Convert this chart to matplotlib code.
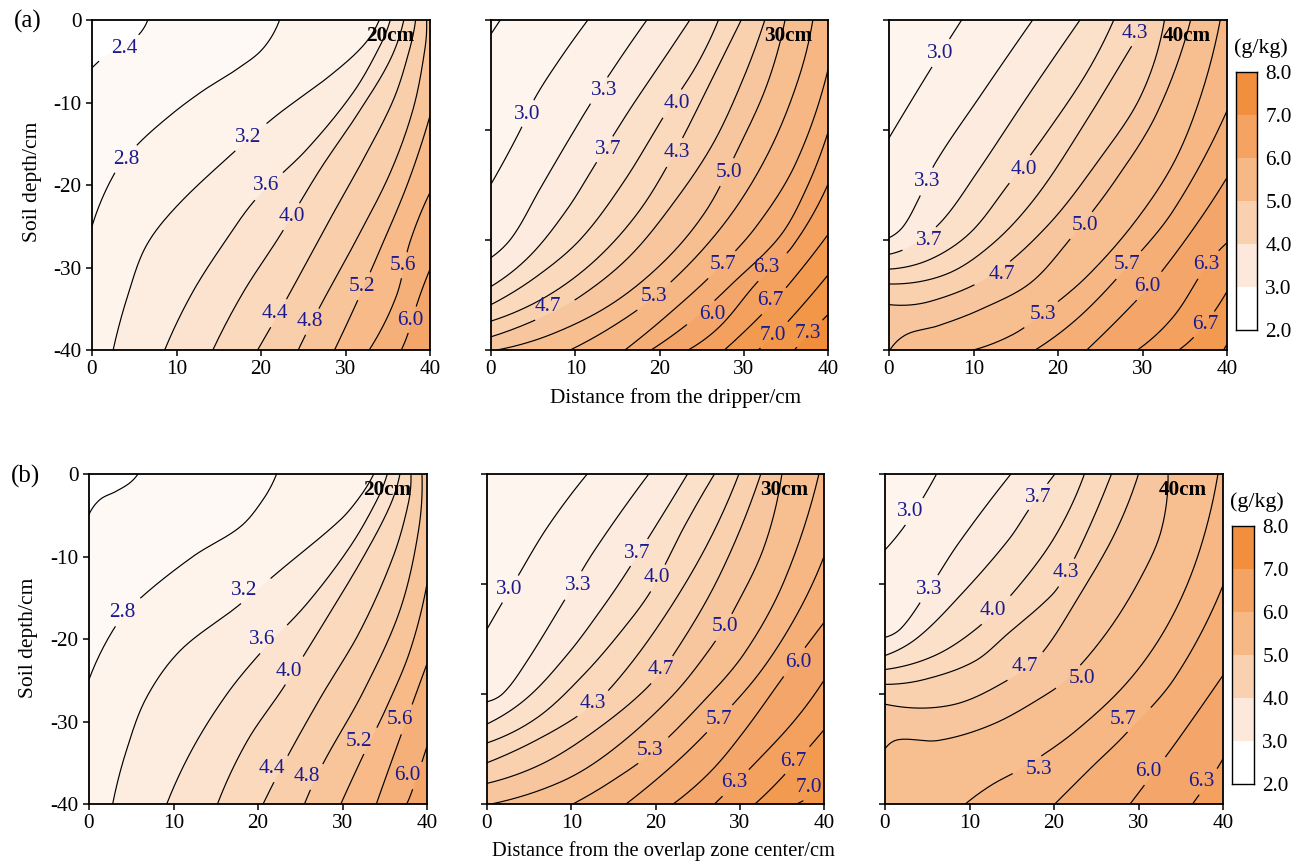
import numpy as np
import matplotlib
matplotlib.use('Agg')
import matplotlib.pyplot as plt
from matplotlib.colors import LinearSegmentedColormap

plt.rcParams['font.family'] = ['Liberation Serif', 'DejaVu Serif']
plt.rcParams['axes.unicode_minus'] = False

# contour lines: level -> (distance, depth) points
a20_lines = {
    2.4: [(0, -5.8), (2.2, -3.9), (5.2, -2.1), (6.6, 0)],
    2.8: [(0, -25), (2.5, -18.9), (5.2, -15.3), (9.2, -11.6), (13.1, -8.6), (17.1, -6), (20.2, -3.5), (22.2, 0)],
    3.2: [(2.5, -40), (4.2, -33.5), (6.4, -27.4), (10, -22.6), (16.7, -16.1), (21.8, -11.6), (28.1, -6.8), (32.1, -3.1), (34, 0)],
    3.6: [(8.6, -40), (11.9, -33), (15.9, -26.6), (19.4, -21.7), (25.4, -15.7), (30.9, -8.8), (34.1, -3.1), (35.3, 0)],
    4.0: [(14.3, -40), (17.9, -33), (22.2, -26.2), (27, -18.1), (31.3, -11.6), (35.2, -5), (36.9, 0)],
    4.4: [(19.6, -40), (23.2, -33.5), (27.7, -25), (32.1, -16.9), (35.7, -9.6), (37.6, -3.5), (38.3, 0)],
    4.8: [(24.4, -40), (27, -34.7), (31.3, -26.6), (35.3, -18.5), (38, -10.8), (39.4, -3.5), (39.6, 0)],
    5.2: [(28.7, -40), (31.3, -34.3), (34.1, -27.8), (37.4, -19.7), (40, -11.6)],
    5.6: [(32.8, -40), (36, -33.5), (37.6, -27), (40, -20.9)],
    6.0: [(36.6, -40), (37.4, -38), (38.6, -34), (40, -30.2)],
}
a20_labels = {2.4: (3.8, -3.4), 2.8: (4, -16.9), 3.2: (18.5, -14.2), 3.6: (20.6, -20.1), 4.0: (23.6, -23.8),
              4.4: (21.6, -35.6), 4.8: (25.8, -36.6), 5.2: (32, -32.3), 5.6: (36.8, -29.7), 6.0: (37.7, -36.4)}

a30_lines = {
    2.7: [(0, -1.7), (1.1, 0)],
    3.0: [(0, -19.9), (3.4, -13.5), (5.2, -9.5), (8, -5), (11.5, 0)],
    3.3: [(0, -28.8), (2.6, -26.2), (5.8, -20.5), (9, -14.9), (11.9, -10), (15.3, -4.7), (18.5, 0)],
    3.7: [(0, -32.3), (4.6, -28.6), (9, -23), (12.5, -17.3), (16.5, -10.8), (20, -5.5), (23.6, 0)],
    4.0: [(0, -34.5), (5.4, -31.1), (10.6, -26.6), (15.7, -19.7), (20.8, -11.2), (24.4, -5.5), (27, 0)],
    4.3: [(0, -36.5), (6.6, -33.5), (12.5, -29), (17.7, -23), (22, -15.7), (26.4, -6.8), (29.7, 0)],
    4.7: [(0, -38.4), (5.4, -36.3), (10.6, -33.5), (16.5, -28.6), (22, -21.7), (26.4, -14.9), (29.9, -7.2), (32.5, 0)],
    5.0: [(0.7, -40), (7.4, -38), (14.5, -34.3), (20.8, -29), (25.6, -23), (29.1, -16.1), (32.7, -8), (34.9, 0)],
    5.3: [(9.4, -40), (14.5, -37.1), (19.2, -33.7), (24.8, -28.2), (29.5, -22.1), (33.5, -14.9), (36.6, -6.8), (38.2, 0)],
    5.7: [(15.9, -40), (20.8, -35.9), (26.4, -30.7), (31.5, -25), (36.2, -17.3), (40, -6)],
    6.0: [(19, -40), (24, -36.3), (28.7, -31.9), (34.3, -26.2), (37.4, -20.5), (40, -13.6)],
    6.3: [(23.4, -40), (27.2, -37.1), (31.5, -31.9), (35.8, -27.4), (40, -19.9)],
    6.7: [(27.7, -40), (32.7, -35.1), (36.2, -31), (40, -26)],
    7.0: [(31.7, -40), (34.3, -37.6), (40, -30.9)],
    7.3: [(36, -40), (38.2, -37.6), (40, -35.7)],
}
a30_labels = {3.0: (4.3, -11.4), 3.3: (13.4, -8.5), 3.7: (13.9, -15.7), 4.0: (22.1, -10.1), 4.3: (22.1, -16),
              4.7: (6.8, -34.7), 5.0: (28.3, -18.5), 5.3: (19.4, -33.5), 5.7: (27.5, -29.6), 6.0: (26.3, -35.7),
              6.3: (32.7, -30), 6.7: (33.2, -34), 7.0: (33.4, -38.2), 7.3: (37.6, -38)}

a40_lines = {
    3.0: [(0, -14.3), (4.9, -6), (8.6, 0)],
    3.3: [(0, -26.4), (1.7, -25), (3.5, -21.7), (5.5, -17.3), (10.8, -9.2), (17, 0)],
    3.7: [(0, -28.4), (2.9, -27.2), (6.4, -24.2), (10.4, -18.5), (16.7, -8.8), (22.6, 0)],
    4.0: [(0, -30.2), (4.9, -29), (9.6, -25.8), (14, -20.1), (18.7, -13.6), (23.4, -6.4), (26.6, 0)],
    4.3: [(0, -32), (6.8, -30.8), (12.4, -27), (17.5, -21.3), (23, -12.8), (28.4, -3.7), (30.6, 0)],
    4.7: [(0, -34.5), (4.9, -34.1), (12, -31), (18.7, -25), (24.6, -17.3), (29.8, -9.2), (32.6, 0)],
    5.0: [(0.1, -40), (2.1, -38.1), (5.7, -37.1), (10.8, -35.1), (16.7, -31.9), (21.4, -26.6), (26.6, -19.7), (31.7, -11.3), (35.7, 0)],
    5.3: [(10, -40), (14.7, -38.1), (18.3, -35.5), (23.4, -31.1), (29, -24.6), (33.7, -17.3), (36.9, -9.2), (39.2, 0)],
    5.7: [(17.3, -40), (22.6, -35.9), (28.2, -29.9), (33.7, -23), (40, -11)],
    6.0: [(23.4, -40), (29, -34.3), (32.1, -30.7), (36.5, -24.6), (40, -19.1)],
    6.3: [(29.4, -40), (33.7, -35.9), (37.7, -29.6), (40, -27)],
    6.7: [(34.3, -40), (36.9, -37.5), (40, -32.9)],
    7.0: [(39.6, -40), (40, -39.3)],
}
a40_labels = {3.0: (6, -4), 3.3: (4.5, -19.6), 3.7: (4.7, -26.7), 4.0: (16, -18.1), 4.3: (29.1, -1.6), 4.7: (13.4, -30.9),
              5.0: (23.2, -24.9), 5.3: (18.2, -35.7), 5.7: (28.2, -29.6), 6.0: (30.6, -32.3), 6.3: (37.5, -29.6), 6.7: (37.4, -36.9)}

b20_lines = {
    2.4: [(0, -4.9), (1.3, -3.1), (3.2, -2.1), (4.8, -1.1), (5.8, 0)],
    2.8: [(0, -24.9), (2.8, -19), (5.6, -15.5), (12.3, -10), (17.9, -6.4), (20.6, -3.1), (22.2, 0)],
    3.2: [(2.8, -40), (4.4, -33.6), (6.8, -27.1), (10.8, -21.4), (17.5, -16.1), (22.6, -11.7), (29.7, -5.6), (32.1, -2.7), (33.7, 0)],
    3.6: [(9.2, -40), (12.3, -33.2), (16.3, -26.7), (20.2, -21.8), (25.8, -15.7), (30.9, -8.8), (34.1, -3.1), (35.3, 0)],
    4.0: [(15.2, -40), (18.7, -32.4), (23, -25.9), (27.7, -18.2), (32.5, -10), (35.6, -3.9), (36.8, 0)],
    4.4: [(20.6, -40), (23.4, -34.4), (27.4, -27.1), (32.1, -19), (36, -10), (37.8, -3.5), (38.1, 0)],
    4.8: [(25.5, -40), (27.7, -35.1), (32.5, -26.3), (36.8, -16.5), (39, -6.8), (39.4, 0)],
    5.2: [(29.8, -40), (32.5, -34), (35.2, -28.3), (38, -21.4), (40, -13.3)],
    5.6: [(34, -40), (36.8, -32), (40, -23)],
    6.0: [(37.6, -40), (38.2, -38.5), (40, -33)],
}
b20_labels = {2.8: (3.9, -16.8), 3.2: (18.4, -14.1), 3.6: (20.5, -20.1), 4.0: (23.6, -23.9), 4.4: (21.6, -35.7),
              4.8: (25.8, -36.7), 5.2: (32, -32.4), 5.6: (36.8, -29.8), 6.0: (37.7, -36.5)}

b30_lines = {
    3.0: [(0, -18.8), (3.6, -12.5), (7.2, -6.4), (11.9, 0)],
    3.3: [(0, -27.6), (2, -26.5), (4.8, -22.6), (9.2, -15.3), (12.8, -9.2), (19.2, 0)],
    3.7: [(0, -30.3), (4.8, -27.1), (9.6, -21.8), (13.5, -16.5), (16.7, -11.7), (23.8, 0)],
    4.0: [(0, -32.6), (6, -29.5), (11.5, -24.3), (16.3, -18.6), (19.5, -14.1), (23.4, -6.4), (27, 0)],
    4.3: [(0, -35), (5.6, -32.4), (11.1, -29.1), (14.7, -25.9), (20.2, -18.6), (25.8, -9.2), (29.9, 0)],
    4.7: [(0, -37.5), (6.4, -35.2), (12.3, -31.5), (18.6, -26.3), (22.2, -21.8), (27.7, -12.1), (32.5, 0)],
    5.0: [(0.5, -40), (8.8, -37.3), (14.7, -33.6), (21.8, -27.1), (26.6, -21), (29.3, -16.5), (32.9, -8.8), (35, 0)],
    5.3: [(10.2, -40), (14.7, -37.3), (19.4, -33.9), (25, -28.3), (30.5, -21.8), (35.3, -12.9), (39.4, 0)],
    5.7: [(16.5, -40), (22.6, -34.8), (27.4, -29.9), (32.5, -23.9), (36.8, -17), (40, -10)],
    6.0: [(22.1, -40), (26.6, -36), (30.5, -31.2), (35.6, -24), (40, -18)],
    6.3: [(27, -40), (31.3, -35.6), (36.4, -30), (40, -25)],
    6.7: [(31.8, -40), (34.9, -36.9), (40, -31)],
    7.0: [(36.7, -40), (38.4, -38.9), (40, -36.5)],
}
b30_labels = {3.0: (2.6, -14), 3.3: (10.8, -13.5), 3.7: (17.8, -9.6), 4.0: (20.2, -12.6), 4.3: (12.6, -27.8), 4.7: (20.6, -23.7),
              5.0: (28.2, -18.5), 5.3: (19.4, -33.5), 5.7: (27.5, -29.7), 6.0: (36.9, -22.8), 6.3: (29.4, -37.4), 6.7: (36.4, -34.8), 7.0: (38.2, -38)}

b40_lines = {
    3.0: [(0, -9.2), (2.8, -5.6), (6.1, 0)],
    3.3: [(0, -19.8), (2, -18.6), (5.1, -14.1), (8.7, -8.4), (14.9, 0)],
    3.7: [(0, -22), (3.9, -19.8), (9.1, -14.5), (14.6, -8), (17.3, -3.9), (20.1, 0)],
    4.0: [(0, -23.7), (5.9, -22), (11, -18.6), (15.4, -14.1), (20.1, -7.6), (23.6, 0)],
    4.3: [(0, -25.5), (4.7, -24.9), (10.6, -22.7), (14.6, -19.3), (18.7, -15.7), (20.5, -13.7), (23.3, -8.4), (26.8, 0)],
    4.7: [(0, -27.9), (7.9, -28), (15, -24.7), (18.5, -21.8), (22.9, -14.9), (27.2, -7.2), (30, 0)],
    5.0: [(0, -33.3), (1.6, -32.2), (6.3, -32.3), (12.6, -30.4), (18.5, -27.1), (21.7, -24.7), (26.4, -19), (30.3, -12.5), (32.7, -6.8), (33.5, 0)],
    5.3: [(9.5, -40), (12.6, -37.7), (16.5, -35.5), (22.5, -31.2), (28.8, -25.1), (33.5, -18.2), (37, -10), (39.4, 0)],
    5.7: [(20.1, -40), (24.4, -35.6), (28.4, -31.6), (34.3, -24.7), (40, -13.5)],
    6.0: [(29, -40), (33.4, -34), (36.2, -30), (40, -24.4)],
    6.3: [(36.4, -40), (39.3, -35.7), (40, -34.5)],
}
b40_labels = {3.0: (3, -4.6), 3.3: (5.2, -14), 3.7: (18.1, -2.8), 4.0: (12.8, -16.5), 4.3: (21.4, -11.9), 4.7: (16.5, -23.3),
              5.0: (23.3, -24.8), 5.3: (18.2, -35.8), 5.7: (28.2, -29.7), 6.0: (31.2, -36.1), 6.3: (37.4, -37.3)}

x_ticks = [0, 10, 20, 30, 40]
y_ticks = [0, -10, -20, -30, -40]
y_ticks_mid = [0, -13.33, -26.67, -40]
cbar_levels = [2, 3, 4, 5, 6, 7, 8]
cbar_colors = ['#FFFFFF', '#FCE9DB', '#FAD1B0', '#F6B884', '#F4A362', '#F28F3E']

W, H = 1295, 863
LABEL_COLOR = '#1B1B8F'
FS = 15.3

# value -> fill colour of the band above that contour
band_cmap = LinearSegmentedColormap.from_list('band', [
    (0.0, '#FFFFFF'), (0.4 / 5.3, '#FEF7F1'), (1.0 / 5.3, '#FDF0E6'), (2.0 / 5.3, '#FAD6B8'),
    (3.0 / 5.3, '#F7BC8C'), (4.0 / 5.3, '#F4A466'), (5.0 / 5.3, '#F29444'), (1.0, '#F18C38')])


def band_color(v):
    return band_cmap((v - 2.1) / 5.3)


def smooth(points, n=24):
    # Hermite curve through the read points, parametrised on chord length
    p = np.array(points, dtype=float)
    if len(p) < 3:
        return p
    t = np.r_[0, np.cumsum(np.hypot(*np.diff(p, axis=0).T))]
    m = np.zeros_like(p)
    m[1:-1] = (p[2:] - p[:-2]) / (t[2:] - t[:-2])[:, None]
    m[0] = 2 * (p[1] - p[0]) / (t[1] - t[0]) - m[1]
    m[-1] = 2 * (p[-1] - p[-2]) / (t[-1] - t[-2]) - m[-2]
    out = []
    for i in range(len(p) - 1):
        h = t[i + 1] - t[i]
        s = np.linspace(0, 1, n, endpoint=False)[:, None]
        out.append((2 * s**3 - 3 * s**2 + 1) * p[i] + (s**3 - 2 * s**2 + s) * h * m[i]
                   + (-2 * s**3 + 3 * s**2) * p[i + 1] + (s**3 - s**2) * h * m[i + 1])
    out.append(p[-1:])
    return np.vstack(out)


def fill_polygon(curve):
    xs, ys = curve[0]
    xe, ye = curve[-1]
    tail = [(xe, 1), (41, 1)] if ye >= -0.1 else [(41, ye)]
    tail.append((41, -41))
    tail += [(xs, -41)] if ys <= -39.5 else [(-1, -41), (-1, ys)]
    return np.vstack([curve, tail])


def make_axes(left, right, top, bottom):
    return fig.add_axes([left / W, 1 - bottom / H, (right - left) / W, (bottom - top) / H])


def draw_panel(box, lines, labels, tag, show_y):
    ax = make_axes(*box)
    levels = sorted(lines)
    ax.set_facecolor(band_color(levels[0] - 0.3))
    curves = {v: smooth(lines[v]) for v in levels}
    for v in levels:
        ax.fill(*fill_polygon(curves[v]).T, color=band_color(v), lw=0, zorder=1)
    for v in levels:
        c = curves[v].copy()
        if v in labels:
            lx, ly = labels[v]
            c[(np.abs(c[:, 0] - lx) < 3.1) & (np.abs(c[:, 1] - ly) < 1.6)] = np.nan
        ax.plot(c[:, 0], c[:, 1], color='black', lw=0.85, zorder=2)
        if v in labels:
            ax.text(*labels[v], f'{v:.1f}', color=LABEL_COLOR, fontsize=FS, ha='center', va='center', zorder=3)
    ax.text(35.3, -1.9, tag, fontsize=FS, fontweight='bold', ha='center', va='center', zorder=4)
    ax.set_xlim(0, 40)
    ax.set_ylim(-40, 0)
    ax.set_xticks(x_ticks)
    if show_y:
        ax.set_yticks(y_ticks)
    else:
        ax.set_yticks(y_ticks_mid)
        ax.set_yticklabels([])
    ax.tick_params(direction='out', length=4.5, width=1.1, labelsize=FS, pad=3)
    for s in ax.spines.values():
        s.set_linewidth(1.3)
    return ax


def draw_cbar(box):
    ax = make_axes(*box)
    for i, col in enumerate(cbar_colors):
        ax.bar(0, cbar_levels[i + 1] - cbar_levels[i], bottom=cbar_levels[i], width=1, color=col, lw=0)
    ax.set_xlim(-0.5, 0.5)
    ax.set_ylim(2, 8)
    ax.set_xticks([])
    ax.yaxis.tick_right()
    ax.set_yticks(cbar_levels)
    ax.set_yticklabels([f'{v:.1f}' for v in cbar_levels])
    ax.tick_params(length=0, labelsize=FS, pad=6)
    for s in ax.spines.values():
        s.set_linewidth(1.0)
    return ax


fig = plt.figure(figsize=(W / 100, H / 100), dpi=100)

draw_panel((92, 430, 20, 350), a20_lines, a20_labels, '20cm', True)
draw_panel((491, 828, 20, 350), a30_lines, a30_labels, '30cm', False)
draw_panel((889, 1227, 20, 350), a40_lines, a40_labels, '40cm', False)
draw_panel((89, 427, 474, 804), b20_lines, b20_labels, '20cm', True)
draw_panel((487, 824, 474, 804), b30_lines, b30_labels, '30cm', False)
draw_panel((885, 1223, 474, 804), b40_lines, b40_labels, '40cm', False)
draw_cbar((1236, 1257, 72, 330))
draw_cbar((1232, 1254, 526, 784))


def px_text(x, y, s, **kw):
    fig.text(x / W, 1 - y / H, s, ha='center', va='center', **kw)


px_text(1261, 48, '(g/kg)', fontsize=15.8)
px_text(1257, 502, '(g/kg)', fontsize=15.8)
px_text(28, 21, '(a)', fontsize=18)
px_text(25, 476, '(b)', fontsize=18)
px_text(33, 182, 'Soil depth/cm', fontsize=15.5, rotation=90)
px_text(29, 638, 'Soil depth/cm', fontsize=15.5, rotation=90)
px_text(676, 398, 'Distance from the dripper/cm', fontsize=15.3)
px_text(663, 851, 'Distance from the overlap zone center/cm', fontsize=14.8)

fig.savefig('out.png', dpi=100)
